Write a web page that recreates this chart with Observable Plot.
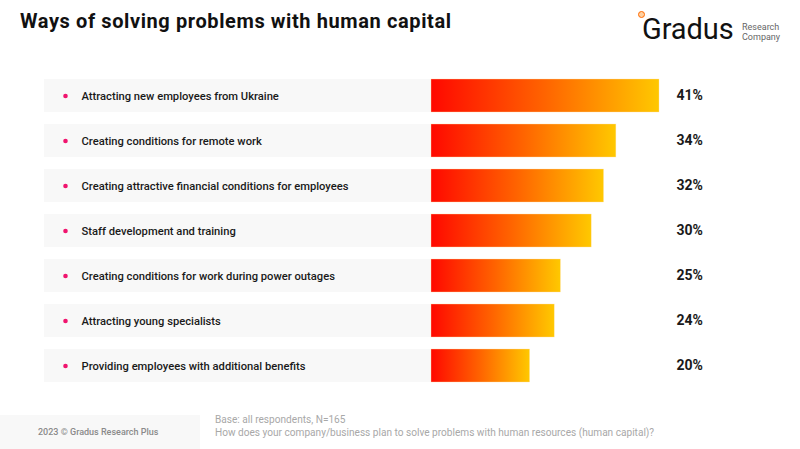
<!DOCTYPE html>
<html>
<head>
<meta charset="utf-8">
<script src="https://cdn.jsdelivr.net/npm/d3@7"></script>
<script src="https://cdn.jsdelivr.net/npm/@observablehq/plot@0.6"></script>
<style>
  html, body { margin: 0; padding: 0; background: #fff; }
  #wrap { position: relative; width: 800px; height: 449px; overflow: hidden; font-family: Roboto, "Noto Sans", sans-serif; }
  #title { position: absolute; left: 20px; top: 10.5px; font-size: 20px; line-height: 20px; font-weight: 700; color: #111; letter-spacing: 0.6px; white-space: nowrap; }
  #logo { position: absolute; left: 636px; top: 6px; width: 160px; height: 44px; }
  #logo .g { position: absolute; left: 6px; top: 7px; font-size: 29px; line-height: 32px; font-weight: 400; color: #111; letter-spacing: -0.1px; }
  #logo .ring { position: absolute; left: 2px; top: 5px; width: 5px; height: 5px; border: 1.6px solid #ff6a00; border-radius: 50%; background: #ffd0a0; }
  #logo .sub { position: absolute; left: 106px; top: 16px; font-size: 9px; line-height: 10px; color: #666; }
  #foot { position: absolute; left: 0; top: 415px; width: 200px; height: 34px; background: #f8f8f8; }
  #foot span { position: absolute; left: 38px; top: 12px; font-size: 9px; font-weight: 500; color: #8a8a8a; white-space: nowrap; }
  #base { position: absolute; left: 215px; top: 414px; font-size: 10.1px; line-height: 12.5px; color: #a8a8a8; white-space: nowrap; }
  #chart { position: absolute; left: 0; top: 0; }
</style>
</head>
<body>
<div id="wrap">
  <div id="chart"></div>
  <div id="title">Ways of solving problems with human capital</div>
  <div id="logo"><div class="ring"></div><div class="g">Gradus</div><div class="sub">Research<br>Company</div></div>
  <div id="foot"><span>2023 © Gradus Research Plus</span></div>
  <div id="base">Base: all respondents, N=165<br>How does your company/business plan to solve problems with human resources (human capital)?</div>
</div>
<script>
const labels = [
  "Attracting new employees from Ukraine",
  "Creating conditions for remote work",
  "Creating attractive financial conditions for employees",
  "Staff development and training",
  "Creating conditions for work during power outages",
  "Attracting young specialists",
  "Providing employees with additional benefits"
];
const values = [41, 34, 32, 30, 25, 24, 20];

const data = labels.map((label, i) => ({label, value: values[i]}));

const gradientDefs = () => {
  const defs = d3.create("svg:defs");
  const g = defs.append("linearGradient").attr("id", "barGrad")
    .attr("x1", "0%").attr("x2", "100%").attr("y1", "0%").attr("y2", "0%");
  g.append("stop").attr("offset", "0%").attr("stop-color", "#ff0800");
  g.append("stop").attr("offset", "50%").attr("stop-color", "#ff6400");
  g.append("stop").attr("offset", "100%").attr("stop-color", "#ffc800");
  return defs.node();
};

const chart = Plot.plot({
  width: 800,
  height: 449,
  marginLeft: 44,
  marginRight: 369,
  marginTop: 0,
  marginBottom: 0,
  style: {fontFamily: "Roboto, 'Noto Sans', sans-serif", background: "transparent", overflow: "visible"},
  x: {domain: [4, 41], range: [431, 659], clamp: true, axis: null},
  y: {domain: labels, range: [79, 382.6], paddingInner: 0.268, paddingOuter: 0, align: 0, axis: null},
  marks: [
    gradientDefs,
    Plot.cell(data, {y: "label", fill: "#f8f8f8"}),
    Plot.barX(data, {x: "value", y: "label", fill: "url(#barGrad)", stroke: "#ffe2a8", strokeWidth: 0.6, strokeOpacity: 0.6}),
    Plot.dot(data, {y: "label", frameAnchor: "left", dx: 21, r: 2.3, fill: "#f0146e"}),
    Plot.text(data, {y: "label", text: "label", frameAnchor: "left", dx: 37, textAnchor: "start", fontSize: 11.2, fontWeight: 500, fill: "#1a1a1a"}),
    Plot.text(data, {y: "label", text: d => d.value + "%", frameAnchor: "right", dx: 245, textAnchor: "start", fontSize: 14, fontWeight: 700, fill: "#1a1a1a"})
  ]
});
document.getElementById("chart").appendChild(chart);
</script>
</body>
</html>
